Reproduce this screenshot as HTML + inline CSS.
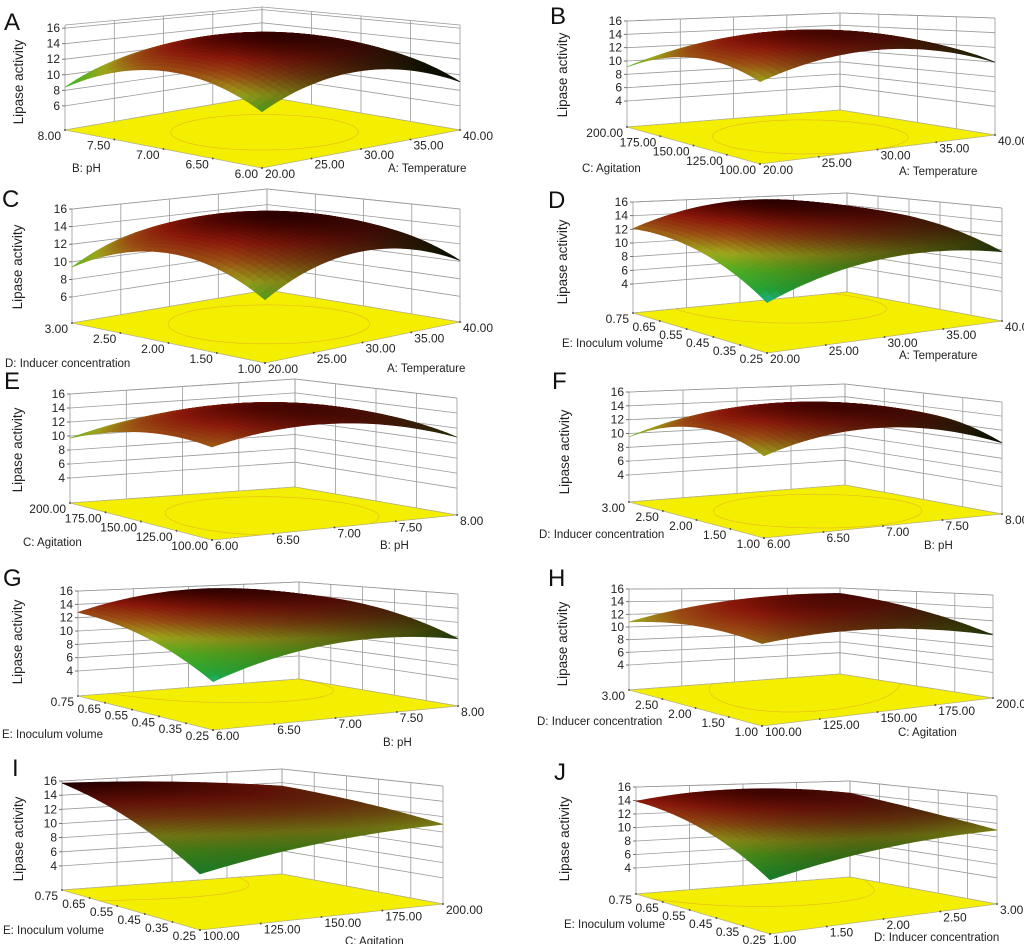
<!DOCTYPE html>
<html><head><meta charset="utf-8"><style>
html,body{margin:0;padding:0;background:#fff;}
svg{display:block;font-family:"Liberation Sans",sans-serif;}
</style></head><body>
<svg id="fig" width="1024" height="944" viewBox="0 0 1024 944" xmlns="http://www.w3.org/2000/svg"></svg>
<script>
// ---- data ----
const letters = ['A','B','C','D','E','F','G','H','I','J'];
const uTitles = ['A: Temperature','A: Temperature','A: Temperature','A: Temperature','B: pH','B: pH','B: pH','C: Agitation','C: Agitation','D: Inducer concentration'];
const vTitles = ['B: pH','C: Agitation','D: Inducer concentration','E: Inoculum volume','C: Agitation','D: Inducer concentration','E: Inoculum volume','D: Inducer concentration','E: Inoculum volume','E: Inoculum volume'];
const tempLabels = ['20.00','25.00','30.00','35.00','40.00'];
const phLabels = ['6.00','6.50','7.00','7.50','8.00'];
const agitLabels = ['100.00','125.00','150.00','175.00','200.00'];
const inducerLabels = ['1.00','1.50','2.00','2.50','3.00'];
const inoculumLabels = ['0.25','0.35','0.45','0.55','0.65','0.75'];
const zTicksA = [6,8,10,12,14,16];
const zTicksB = [4,6,8,10,12,14,16];
// surface values: rows v = low, mid, high; cols u = low, mid, high
const surfA = [[9.5,12.5,9.1],[12.5,15.5,12.2],[8.4,12.0,9.0]];
const surfB = [[11.0,13.5,10.0],[12.5,15.0,12.0],[9.1,12.5,11.0]];
const surfC = [[9.6,13.0,10.1],[12.8,15.6,13.0],[9.4,13.0,10.5]];
const surfD = [[6.3,10.5,9.7],[11.0,14.5,13.0],[12.1,15.5,13.5]];
const surfE = [[12.3,14.0,10.8],[12.5,15.0,12.5],[9.7,12.5,11.5]];
const surfF = [[10.8,13.5,10.2],[12.8,15.2,13.0],[9.5,12.8,11.0]];
const surfG = [[6.7,10.5,9.7],[11.0,14.0,13.0],[12.8,15.5,14.0]];
const surfH = [[12.0,12.5,9.8],[12.5,14.5,13.0],[10.8,14.0,15.0]];
const surfI = [[7.5,10.0,11.0],[12.5,13.5,12.5],[15.7,15.0,13.5]];
const surfJ = [[7.3,10.0,11.0],[12.0,14.0,12.5],[13.9,15.2,14.0]];

const surfaces = [surfA,surfB,surfC,surfD,surfE,surfF,surfG,surfH,surfI,surfJ];
const uLabelSets = [tempLabels,tempLabels,tempLabels,tempLabels,phLabels,phLabels,phLabels,agitLabels,agitLabels,inducerLabels];
const vLabelSets = [phLabels,agitLabels,inducerLabels,inoculumLabels,agitLabels,inducerLabels,inoculumLabels,inducerLabels,inoculumLabels,inoculumLabels];
const zTickSets = [zTicksA,zTicksB,zTicksA,zTicksB,zTicksB,zTicksB,zTicksB,zTicksB,zTicksB,zTicksB];

// ---- layout (geometry, not data) ----
const geo = [
 {o:[0,0],L:[65,130],F:[262,168],R:[460,130],B:[262,96],h:[115,105,89,105],zr:[2.9,16.4],let:[4,30],yt:[18,82],lt:[72,172],rt:[388,172]},
 {o:[512,0],L:[115,127],F:[248,164],R:[483,135],B:[328,110],h:[120,117,97,106],zr:[0.1,16],let:[38,24],yt:[50,75],lt:[70,172],rt:[387,175]},
 {o:[0,185],L:[72,138],F:[265,178],R:[460,137],B:[267,105],h:[125,113,101,114],zr:[3.05,16],let:[2,22],yt:[17,82],lt:[5,182],rt:[387,187]},
 {o:[512,190],L:[121,123],F:[255,163],R:[490,131],B:[335,102],h:[125,113,99,111],zr:[-0.25,16],let:[36,18],yt:[50,72],lt:[50,157],rt:[387,169]},
 {o:[0,375],L:[70,128],F:[212,165],R:[457,140],B:[295,112],h:[122,117,108,109],zr:[0.43,16],let:[4,14],yt:[17,75],lt:[23,171],rt:[380,174]},
 {o:[512,375],L:[117,127],F:[252,163],R:[490,139],B:[333,110],h:[122,112,101,110],zr:[0.09,16],let:[40,14],yt:[52,77],lt:[27,163],rt:[412,174]},
 {o:[0,562],L:[78,134],F:[213,168],R:[458,144],B:[299,117],h:[118,112,97,105],zr:[0.25,16],let:[3,24],yt:[17,80],lt:[2,176],rt:[383,184]},
 {o:[512,562],L:[117,128],F:[250,164],R:[481,136],B:[328,112],h:[110,103,86,101],zr:[0.05,16],let:[36,24],yt:[50,82],lt:[25,163],rt:[386,174]},
 {o:[0,754],L:[62,136],F:[200,176],R:[443,150],B:[282,120],h:[125,118,105,109],zr:[0.6,16],let:[12,22],yt:[18,85],lt:[3,180],rt:[345,191]},
 {o:[512,754],L:[124,140],F:[258,180],R:[485,150],B:[338,123],h:[120,108,96,107],zr:[0.15,16],let:[42,26],yt:[52,85],lt:[52,174],rt:[362,187]}
];

const NS='http://www.w3.org/2000/svg';
const svg=document.getElementById('fig');
function mk(tag,attrs,parent){const e=document.createElementNS(NS,tag);for(const k in attrs)e.setAttribute(k,attrs[k]);(parent||svg).appendChild(e);return e;}

function lag(t){return [2*(t-0.5)*(t-1),-4*t*(t-1),2*t*(t-0.5)];}
function zAt(g,u,v){const a=lag(u),b=lag(v);let s=0;for(let j=0;j<3;j++)for(let i=0;i<3;i++)s+=g[j][i]*a[i]*b[j];return s;}

function makeProj(G){
  return function(u,v,z){
    const F=G.F,R=G.R,B=G.B,L=G.L,h=G.h;
    const w00=(1-u)*(1-v),w10=u*(1-v),w11=u*v,w01=(1-u)*v;
    const x=F[0]*w00+R[0]*w10+B[0]*w11+L[0]*w01;
    const y=F[1]*w00+R[1]*w10+B[1]*w11+L[1]*w01;
    const hh=h[0]*w00+h[1]*w10+h[2]*w11+h[3]*w01;
    const wz=(z-G.zr[0])/(G.zr[1]-G.zr[0]);
    return [x,y-wz*hh];
  };
}

const cmap=[[0,[30,190,175]],[0.15,[35,165,55]],[0.35,[80,160,30]],[0.5,[145,150,25]],[0.66,[140,70,18]],[0.8,[125,22,10]],[0.92,[70,5,0]],[1,[25,0,0]]];
function color(z,shade){
  let t=Math.max(0,Math.min(1,(z-6)/10));
  let c=cmap[cmap.length-1][1];
  for(let k=0;k<cmap.length-1;k++){if(t<=cmap[k+1][0]){const a=cmap[k],b=cmap[k+1];const f=(t-a[0])/(b[0]-a[0]);c=[0,1,2].map(i=>a[1][i]+(b[1][i]-a[1][i])*f);break;}}
  return 'rgb('+c.map(x=>Math.max(0,Math.min(255,Math.round(x*shade)))).join(',')+')';
}
function f1(n){return n.toFixed(1);}

geo.forEach((G,p)=>{
  const g=mk('g',{transform:'translate('+G.o[0]+','+G.o[1]+')'});
  
  
  const P=makeProj(G);
  const surf=surfaces[p], uL=uLabelSets[p], vL=vLabelSets[p], zt=zTickSets[p];
  const zTop=G.zr[1];
  const wall=mk('g',{stroke:'#9a9a9a','stroke-width':'0.8',fill:'none'},g);
  
  
  const zLines=[G.zr[0]].concat(zt).concat([zTop]);
  zLines.forEach(z=>{
    const a=P(0,1,z),b=P(1,1,z),c=P(1,0,z);
    mk('polyline',{points:a.map(f1).join(',')+' '+b.map(f1).join(',')+' '+c.map(f1).join(',')},wall);
  });
  for(let i=0;i<uL.length;i++){const u=i/(uL.length-1);const a=P(u,1,G.zr[0]),b=P(u,1,zTop);mk('line',{x1:f1(a[0]),y1:f1(a[1]),x2:f1(b[0]),y2:f1(b[1])},wall);}
  for(let i=0;i<vL.length;i++){const v=i/(vL.length-1);const a=P(1,v,G.zr[0]),b=P(1,v,zTop);mk('line',{x1:f1(a[0]),y1:f1(a[1]),x2:f1(b[0]),y2:f1(b[1])},wall);}
  const fl=mk('polygon',{points:[G.F,G.R,G.B,G.L].map(q=>q.join(',')).join(' '),fill:'#f4ef00',stroke:'#b8b480','stroke-width':'0.8'},g);
  
  
  const N=30;
  let zmax=-1e9;for(let j=0;j<=N;j++)for(let i=0;i<=N;i++)zmax=Math.max(zmax,zAt(surf,i/N,j/N));
  const levels=[zmax-1.5];
  const cg=mk('g',{stroke:'#e4b820','stroke-width':'0.6',fill:'none'},g);
  
  
  levels.forEach(lv=>{
    for(let j=0;j<N;j++)for(let i=0;i<N;i++){
      const c=[[i/N,j/N],[(i+1)/N,j/N],[(i+1)/N,(j+1)/N],[i/N,(j+1)/N]];
      const zz=c.map(q=>zAt(surf,q[0],q[1]));
      const pts=[];
      for(let k=0;k<4;k++){const a=zz[k],b=zz[(k+1)%4];if((a-lv)*(b-lv)<0){const f=(lv-a)/(b-a);const q1=c[k],q2=c[(k+1)%4];pts.push(P(q1[0]+(q2[0]-q1[0])*f,q1[1]+(q2[1]-q1[1])*f,G.zr[0]));}}
      if(pts.length>=2)mk('line',{x1:f1(pts[0][0]),y1:f1(pts[0][1]),x2:f1(pts[1][0]),y2:f1(pts[1][1])},cg);
    }
  });
  const sg=mk('g',{},g);
  
  
  const M=34;const quads=[];
  for(let j=0;j<M;j++)for(let i=0;i<M;i++)quads.push([i,j]);
  quads.sort((a,b)=>(b[0]+b[1])-(a[0]+a[1]));
  quads.forEach(([i,j])=>{
    const u0=i/M,u1=(i+1)/M,v0=j/M,v1=(j+1)/M,uc=(u0+u1)/2,vc=(v0+v1)/2;
    const zc=zAt(surf,uc,vc);
    const e=0.01;
    const gu=(zAt(surf,uc+e,vc)-zAt(surf,uc-e,vc))/(2*e);
    const gv=(zAt(surf,uc,vc+e)-zAt(surf,uc,vc-e))/(2*e);
    let sh=0.95+0.04*(gu-gv);sh=Math.max(0.1,Math.min(1.1,sh));
    const pts=[P(u0,v0,zAt(surf,u0,v0)),P(u1,v0,zAt(surf,u1,v0)),P(u1,v1,zAt(surf,u1,v1)),P(u0,v1,zAt(surf,u0,v1))];
    const col=color(zc,sh);
    mk('polygon',{points:pts.map(q=>f1(q[0])+','+f1(q[1])).join(' '),fill:col,stroke:col,'stroke-width':'0.6'},sg);
  });
  const za=mk('g',{},g);
  
  
  zt.forEach(z=>{
    const a=P(0,1,z);
    mk('line',{x1:f1(a[0]-3),y1:f1(a[1]),x2:f1(a[0]),y2:f1(a[1]),stroke:'#555','stroke-width':'0.8'},za);
    const t=mk('text',{x:f1(a[0]-5),y:f1(a[1]+4),'text-anchor':'end','font-size':'12',fill:'#222'},za);
    t.textContent=z;
    
    
  });
  vL.forEach((s,i)=>{
    const v=i/(vL.length-1);const a=P(0,v,G.zr[0]);
    mk('circle',{cx:f1(a[0]),cy:f1(a[1]),r:'1',fill:'#555'},g);
    const t=mk('text',{x:f1(a[0]-4),y:f1(a[1]+10),'text-anchor':'end','font-size':'12',fill:'#222'},g);
    t.textContent=s;
    
    
  });
  uL.forEach((s,i)=>{
    const u=i/(uL.length-1);const a=P(u,0,G.zr[0]);
    mk('circle',{cx:f1(a[0]),cy:f1(a[1]),r:'1',fill:'#555'},g);
    const t=mk('text',{x:f1(a[0]+3),y:f1(a[1]+10),'text-anchor':'start','font-size':'12',fill:'#222'},g);
    t.textContent=s;
    
    
  });
  let t=mk('text',{x:G.lt[0],y:G.lt[1],'font-size':'11.5',fill:'#222'},g);
  t.textContent=vTitles[p];
  
  
  t=mk('text',{x:G.rt[0],y:G.rt[1],'font-size':'11.5',fill:'#222'},g);
  t.textContent=uTitles[p];
  
  
  t=mk('text',{x:G.yt[0],y:G.yt[1],'font-size':'13.5',fill:'#222','text-anchor':'middle',transform:'rotate(-90 '+G.yt[0]+' '+G.yt[1]+')',dy:'5'},g);
  t.textContent='Lipase activity';
  
  
  t=mk('text',{x:G.let[0],y:G.let[1],'font-size':'24',fill:'#111'},g);
  t.textContent=letters[p];
  
  
});
</script>
</body></html>
